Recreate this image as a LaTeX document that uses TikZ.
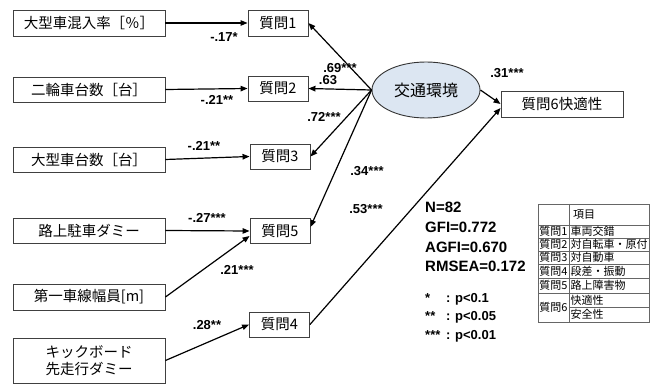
\documentclass[tikz,border=0pt]{standalone}
\usepackage{fontspec}
\setmainfont{Liberation Sans}
\newfontfamily\jp{Noto Sans CJK JP}
\usetikzlibrary{arrows.meta,shapes.geometric,calc}
\definecolor{ellfill}{RGB}{220,230,242}
\begin{document}
\begin{tikzpicture}[x=1pt,y=-1pt,
  box/.style={draw=black!75,line width=0.9pt,fill=white,minimum height=25pt,inner sep=0pt,font=\jp\fontsize{14.5}{17}\selectfont,align=center},
  lbox/.style={box,minimum width=152pt},
  qbox/.style={box,minimum width=60pt},
  arr/.style={-{Triangle[length=7pt,width=5.5pt]},line width=1.2pt,black},
  lab/.style={font=\bfseries\fontsize{13}{13}\selectfont,inner sep=0pt},
  stat/.style={font=\bfseries\fontsize{15}{15}\selectfont,anchor=base west,inner sep=0pt},
  leg/.style={font=\bfseries\fontsize{13}{13}\selectfont,anchor=base west,inner sep=0pt},
  tbl/.style={draw=black!60,line width=0.6pt},
  ttx/.style={font=\jp\fontsize{11}{11}\selectfont,inner sep=0pt}]
\path[use as bounding box,fill=white] (0,0) rectangle (654,385);

% left boxes
\node[lbox,minimum height=26pt] (L1) at (89,23) {大型車混入率［％］};
\node[lbox] (L2) at (89,89.5) {二輪車台数［台］};
\node[lbox] (L3) at (89,159.5) {大型車台数［台］};
\node[lbox] (L4) at (89,230.5) {路上駐車ダミー};
\node[lbox,minimum height=26pt] (L5) at (89,297) {第一車線幅員[m]};
\node[lbox,minimum height=45pt] (L6) at (89,360.5) {キックボード\\先走行ダミー};

% question boxes
\node[qbox,minimum height=26pt] (Q1) at (278,23) {質問1};
\node[qbox] (Q2) at (278,88.5) {質問2};
\node[qbox] (Q3) at (280,156.5) {質問3};
\node[qbox] (Q5) at (280,231) {質問5};
\node[qbox] (Q4) at (279.5,324.5) {質問4};
\node[box,minimum width=122pt,minimum height=26pt] (Q6) at (562,104) {質問6快適性};

% latent
\node[ellipse,draw=black!80,line width=0.9pt,fill=ellfill,minimum width=108pt,minimum height=56pt,inner sep=0pt,font=\jp\fontsize{16}{16}\selectfont] (E) at (426,90) {交通環境};

% connectors
\draw[arr] (L1.east) -- (Q1.west);
\draw[arr] (L2.east) -- (Q2.west);
\draw[arr] (L3.east) -- (Q3.west);
\draw[arr] (L4.east) -- (Q5.west);
\draw[arr] (L5.east) -- ($(Q5.west)+(0,5)$);
\draw[arr] (L6.east) -- (Q4.west);
\draw[arr] (E.west) -- (Q1.east);
\draw[arr] (E.west) -- (Q2.east);
\draw[arr] (E.west) -- (Q3.east);
\draw[arr] (E.west) -- ($(Q5.east)+(0,-4)$);
\draw[arr] (E.east) -- (Q6.west);
\draw[arr] (Q4.east) -- ($(Q6.west)+(0,4)$);

% path labels
\node[lab] (p1) at (224,37.5) {-.17*};
\node[lab] (p2) at (217,100) {-.21**};
\node[lab] (p3) at (204,146) {-.21**};
\node[lab] (p4) at (207,218) {-.27***};
\node[lab] (p5) at (237,270) {.21***};
\node[lab] (p6) at (207,325) {.28**};
\node[lab] (p7) at (340,68) {.69***};
\node[lab] (p8) at (328,80) {.63};
\node[lab] (p9) at (324,117) {.72***};
\node[lab] (p10) at (367,171) {.34***};
\node[lab] (p11) at (366,209) {.53***};
\node[lab] (p12) at (507,73) {.31***};

% stats
\node[stat] (n1) at (425,213) {N=82};
\node[stat] (n2) at (425,233) {GFI=0.772};
\node[stat] (n3) at (425,253) {AGFI=0.670};
\node[stat] (n4) at (425,272) {RMSEA=0.172};

\node[leg] (s1) at (425,302) {*};
\node[leg] (c1) at (446,302) {:};
\node[leg] (v1) at (455,302) {p<0.1};
\node[leg] (s2) at (425,320) {**};
\node[leg] (c2) at (446,320) {:};
\node[leg] (v2) at (455,320) {p<0.05};
\node[leg] (s3) at (425,339) {***};
\node[leg] (c3) at (446,339) {:};
\node[leg] (v3) at (455,339) {p<0.01};

% table
\draw[tbl] (538,204) rectangle (649,322);
\draw[tbl] (569,204) -- (569,322);
\foreach \yy in {225,238,251,264,278,293} \draw[tbl] (538,\yy) -- (649,\yy);
\draw[tbl] (569,307) -- (649,307);
\node[ttx] (h) at (584,214.5) {項目};
\node[ttx] (t1) at (553.5,231.5) {質問1};
\node[ttx] (t2) at (553.5,244.5) {質問2};
\node[ttx] (t3) at (553.5,257.5) {質問3};
\node[ttx] (t4) at (553.5,271) {質問4};
\node[ttx] (t5) at (553.5,285.5) {質問5};
\node[ttx] (t6) at (553.5,307.5) {質問6};
\node[ttx,anchor=west] (r1) at (570.5,231.5) {車両交錯};
\node[ttx,anchor=west] (r2) at (570.5,244.5) {対自転車・原付};
\node[ttx,anchor=west] (r3) at (570.5,257.5) {対自動車};
\node[ttx,anchor=west] (r4) at (570.5,271) {段差・振動};
\node[ttx,anchor=west] (r5) at (570.5,285.5) {路上障害物};
\node[ttx,anchor=west] (r6) at (570.5,300) {快適性};
\node[ttx,anchor=west] (r7) at (570.5,314.5) {安全性};
\end{tikzpicture}
\end{document}
